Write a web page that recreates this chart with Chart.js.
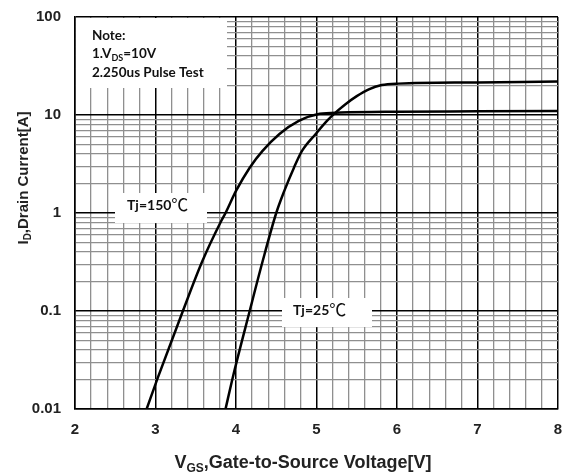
<!DOCTYPE html>
<html>
<head>
<meta charset="utf-8">
<script src="https://cdn.jsdelivr.net/npm/chart.js@4.4.1/dist/chart.umd.min.js"></script>
<style>
  html, body { margin: 0; padding: 0; background: #fff; }
  canvas { display: block; }
</style>
</head>
<body>
<canvas id="c" width="564" height="474"></canvas>
<script>
// Tj=150C curve (VGS [V], ID [A])
const vgs150 = [2.89, 3.03, 3.34, 3.58, 3.81, 3.87, 4.0, 4.17, 4.33, 4.54, 4.78, 5.04, 5.3, 6.0, 7.0, 8.0];
const id150  = [0.01, 0.021, 0.1, 0.32, 0.81, 1.0, 1.68, 2.9, 4.3, 6.4, 8.7, 10.3, 10.6, 10.8, 10.9, 11.0];
// Tj=25C curve
const vgs25 = [3.87, 3.96, 4.17, 4.33, 4.5, 4.6, 4.72, 4.82, 4.99, 5.13, 5.26, 5.36, 5.5, 5.65, 5.81, 6.02, 7.0, 8.0];
const id25  = [0.01, 0.021, 0.1, 0.32, 1.0, 1.68, 2.9, 4.3, 6.4, 8.7, 11.0, 12.9, 15.6, 18.3, 20.2, 20.9, 21.5, 22.0];

const yTicks = [0.01,0.02,0.03,0.04,0.05,0.06,0.07,0.08,0.09,
                0.1,0.2,0.3,0.4,0.5,0.6,0.7,0.8,0.9,
                1,2,3,4,5,6,7,8,9,
                10,20,30,40,50,60,70,80,90,100];
const xLabels = [2, 3, 4, 5, 6, 7, 8];

const noteLines = ["Note:", "1.V|DS|=10V", "2.250us Pulse Test"];
const label150 = "Tj=150";
const label25 = "Tj=25";
const degC = "\u2103";

const pts = (xs, ys) => xs.map((x, i) => ({ x: x, y: ys[i] }));
const isDecade = v => Math.abs(Math.log10(v) - Math.round(Math.log10(v))) < 1e-9;
const isInt = v => Math.abs(v - Math.round(v)) < 1e-6;

// draw "A|sub|B" text with subscripts
function drawParts(ctx, str, x, y, size, family, align) {
  const parts = str.split("|");
  let w = 0;
  const fonts = parts.map((p, i) => (i % 2 ? "bold " + Math.round(size * 0.68) + "px " : "bold " + size + "px ") + family);
  parts.forEach((p, i) => { ctx.font = fonts[i]; w += ctx.measureText(p).width; });
  let cx = align === "center" ? x - w / 2 : x;
  ctx.textAlign = "left";
  parts.forEach((p, i) => {
    ctx.font = fonts[i];
    ctx.fillText(p, cx, i % 2 ? y + size * 0.22 : y);
    cx += ctx.measureText(p).width;
  });
}

function drawTj(ctx, txt, x, y) {
  ctx.font = "bold 14px Lato, sans-serif";
  ctx.fillText(txt, x, y);
  const w = ctx.measureText(txt).width;
  ctx.font = "17px 'Noto Sans CJK SC', sans-serif";
  ctx.fillText(degC, x + w, y + 1);
}

const overlay = {
  id: "overlay",
  beforeDatasetsDraw(chart) {
    const ctx = chart.ctx;
    ctx.save();
    ctx.fillStyle = "#fff";
    ctx.fillRect(76, 18, 151, 70);
    ctx.fillRect(115, 193, 92, 30);
    ctx.fillRect(282, 298, 90, 29);
    ctx.fillStyle = "#111";
    ctx.textBaseline = "alphabetic";
    ctx.textAlign = "left";
    const fam = "Lato, 'Open Sans', sans-serif";
    drawParts(ctx, noteLines[0], 92, 40, 13.5, fam, "left");
    drawParts(ctx, noteLines[1], 92, 58, 13.5, fam, "left");
    drawParts(ctx, noteLines[2], 92, 77, 13.5, fam, "left");
    drawTj(ctx, label150, 127, 210);
    drawTj(ctx, label25, 293, 315);
    ctx.restore();
  },
  afterDraw(chart) {
    const ctx = chart.ctx;
    ctx.save();
    ctx.fillStyle = "#222";
    ctx.textBaseline = "alphabetic";
    const fam = "'Liberation Sans', Arial, sans-serif";
    drawParts(ctx, "V|GS|,Gate-to-Source Voltage[V]", 303, 468, 18, fam, "center");
    ctx.translate(28, 178);
    ctx.rotate(-Math.PI / 2);
    drawParts(ctx, "I|D|,Drain Current[A]", 0, 0, 15, fam, "center");
    ctx.restore();
  }
};

new Chart(document.getElementById("c"), {
  type: "line",
  data: {
    datasets: [
      { label: "Tj=150C", data: pts(vgs150, id150), borderColor: "#000", borderWidth: 2.5,
        pointRadius: 0, cubicInterpolationMode: "monotone", fill: false },
      { label: "Tj=25C", data: pts(vgs25, id25), borderColor: "#000", borderWidth: 2.5,
        pointRadius: 0, cubicInterpolationMode: "monotone", fill: false }
    ]
  },
  options: {
    responsive: false,
    animation: false,
    devicePixelRatio: 1,
    layout: { padding: { top: 17, right: 6, left: 0, bottom: 0 } },
    plugins: { legend: { display: false }, tooltip: { enabled: false } },
    scales: {
      x: {
        type: "linear", min: 2, max: 8,
        afterFit: s => { s.height = 65; s.paddingLeft = 0; s.paddingRight = 0; },
        ticks: {
          stepSize: 0.2, autoSkip: false, maxRotation: 0, padding: 12,
          color: "#222", font: { family: "'Liberation Sans', Arial", size: 15, weight: "bold" },
          callback: v => (isInt(v) && xLabels.includes(Math.round(v))) ? String(Math.round(v)) : ""
        },
        grid: {
          drawTicks: false,
          color: c => isInt(c.tick.value) ? "#000" : "#8f8f8f",
          lineWidth: c => isInt(c.tick.value) ? 1.5 : 1.3
        },
        border: { display: true, color: "#000", width: 1.5 }
      },
      y: {
        type: "logarithmic", min: 0.01, max: 100,
        afterFit: s => { s.width = 75; s.paddingTop = 0; s.paddingBottom = 0; },
        afterBuildTicks: s => { s.ticks = yTicks.map(v => ({ value: v })); },
        ticks: {
          autoSkip: false, padding: 14,
          color: "#222", font: { family: "'Liberation Sans', Arial", size: 15, weight: "bold" },
          callback: v => isDecade(v) ? String(v) : ""
        },
        grid: {
          drawTicks: false,
          color: c => isDecade(c.tick.value) ? "#000" : "#8f8f8f",
          lineWidth: c => isDecade(c.tick.value) ? 1.5 : 1.3
        },
        border: { display: true, color: "#000", width: 1.5 }
      }
    }
  },
  plugins: [overlay]
});
</script>
</body>
</html>
